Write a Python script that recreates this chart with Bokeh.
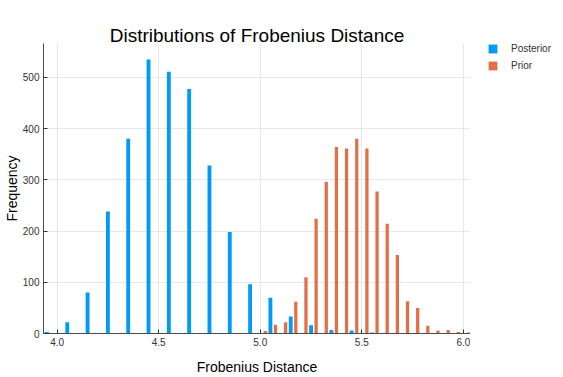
from bokeh.plotting import figure
from bokeh.layouts import row
from bokeh.models import FixedTicker, Legend, LegendItem, CustomJSTickFormatter
from bokeh.embed import file_html
from bokeh.resources import INLINE

# Data (bin centers and counts)
posterior_centers = [3.95, 4.05, 4.15, 4.25, 4.35, 4.45, 4.55, 4.65, 4.75, 4.85,
                     4.95, 5.05, 5.15, 5.25, 5.35, 5.45, 5.55, 5.85]
posterior_counts = [3, 22, 80, 238, 380, 535, 511, 477, 328, 198,
                    96, 70, 33, 16, 7, 6, 2, 1]

prior_centers = [5.025, 5.075, 5.125, 5.175, 5.225, 5.275, 5.325, 5.375, 5.425, 5.475,
                 5.525, 5.575, 5.625, 5.675, 5.725, 5.775, 5.825, 5.875, 5.925, 5.975, 6.025]
prior_counts = [5, 17, 22, 62, 110, 224, 296, 364, 361, 380,
                361, 277, 214, 153, 63, 50, 15, 6, 7, 3, 2]

x_ticks = [4.0, 4.5, 5.0, 5.5, 6.0]
y_ticks = [0, 100, 200, 300, 400, 500]

FONT = "Liberation Sans"
BLUE = "#009AF9"
ORANGE = "#E26F46"

p = figure(width=470, height=377, output_backend="svg", toolbar_location=None,
           x_range=(3.933, 6.035), y_range=(0, 566),
           min_border_left=42, min_border_right=0, min_border_top=43, min_border_bottom=41,
           title="Distributions of Frobenius Distance")
p.outline_line_color = None
p.background_fill_color = "white"

p.title.text_font = FONT
p.title.text_font_size = "19px"
p.title.text_font_style = "normal"
p.title.align = "center"
p.title.text_color = "black"
p.title.standoff = -4

r1 = p.vbar(x=posterior_centers, top=posterior_counts, width=0.019, bottom=0,
            fill_color=BLUE, line_color=None)
r2 = p.vbar(x=prior_centers, top=prior_counts, width=0.016, bottom=0,
            fill_color=ORANGE, line_color=None)

p.xaxis.ticker = FixedTicker(ticks=x_ticks)
p.yaxis.ticker = FixedTicker(ticks=y_ticks)
p.xaxis.formatter = CustomJSTickFormatter(code="return tick.toFixed(1);")
p.yaxis.formatter = CustomJSTickFormatter(code="return tick.toFixed(0);")

for ax in (p.xaxis[0], p.yaxis[0]):
    ax.axis_line_color = "#4d4d4d"
    ax.axis_line_width = 1
    ax.major_tick_in = 4
    ax.major_tick_out = 0
    ax.major_tick_line_color = "#333333"
    ax.minor_tick_line_color = None
    ax.major_label_text_font = FONT
    ax.major_label_text_font_size = "10px"
    ax.major_label_text_color = "#333333"
    ax.axis_label_text_font = FONT
    ax.axis_label_text_font_size = "14px"
    ax.axis_label_text_font_style = "normal"
    ax.axis_label_text_color = "black"
    ax.major_label_standoff = 4

p.xaxis.axis_label = "Frobenius Distance"
p.yaxis.axis_label = "Frequency"
p.xaxis.axis_label_standoff = 10
p.yaxis.axis_label_standoff = 0

p.xgrid.grid_line_color = "#e8e8e8"
p.ygrid.grid_line_color = "#e8e8e8"

# Separate narrow figure that only holds the legend (outside the plot frame).
# Its renderers reuse the data but are hidden; only their legend swatches show.
lg = figure(width=93, height=377, output_backend="svg", toolbar_location=None,
            title=None, x_range=(3.933, 6.035), y_range=(-2, -1),
            x_axis_type=None, y_axis_type=None,
            min_border_left=17, min_border_right=0, min_border_top=32, min_border_bottom=0)
lg.grid.visible = False
lg.outline_line_color = None
d1 = lg.vbar(x=posterior_centers, top=posterior_counts, width=0.019,
             fill_color=BLUE, line_color=None)
d2 = lg.vbar(x=prior_centers, top=prior_counts, width=0.016,
             fill_color=ORANGE, line_color=None)
d1.visible = False
d2.visible = False

legend = Legend(items=[LegendItem(label="Posterior", renderers=[d1]),
                       LegendItem(label="Prior", renderers=[d2])],
                location="top_left", orientation="vertical",
                glyph_width=11, glyph_height=11, label_height=11, label_width=20,
                label_standoff=13, spacing=6, padding=0, margin=0,
                border_line_color=None, background_fill_alpha=0,
                inactive_fill_alpha=0,
                label_text_font=FONT, label_text_font_size="10px",
                label_text_color="#333333")
lg.add_layout(legend, "center")

open("out.html", "w").write(file_html(row(p, lg), INLINE))
